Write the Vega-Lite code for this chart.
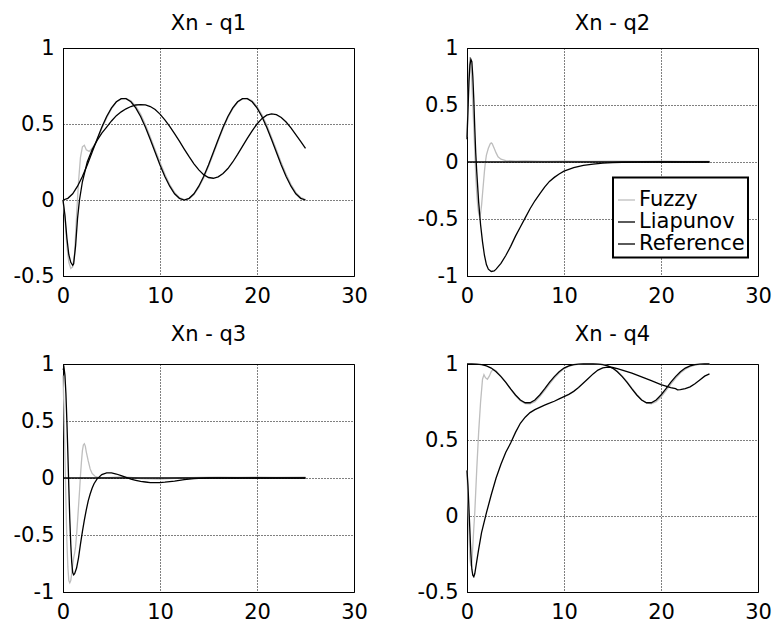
{
"$schema":"https://vega.github.io/schema/vega-lite/v6.json",
"background":"white",
"padding":{"left":12,"top":12,"right":0,"bottom":0},
"columns":2,
"spacing":{"row":16,"column":48},
"data":{"values":[
{"p":"q1","s":"Fuzzy","t":0,"v":0},{"p":"q1","s":"Fuzzy","t":0.2,"v":-0.12},{"p":"q1","s":"Fuzzy","t":0.4,"v":-0.3},{"p":"q1","s":"Fuzzy","t":0.6,"v":-0.41},{"p":"q1","s":"Fuzzy","t":0.8,"v":-0.45},{"p":"q1","s":"Fuzzy","t":1.0,"v":-0.44},{"p":"q1","s":"Fuzzy","t":1.2,"v":-0.35},{"p":"q1","s":"Fuzzy","t":1.4,"v":-0.1},{"p":"q1","s":"Fuzzy","t":1.6,"v":0.12},{"p":"q1","s":"Fuzzy","t":1.8,"v":0.28},{"p":"q1","s":"Fuzzy","t":2.0,"v":0.35},{"p":"q1","s":"Fuzzy","t":2.2,"v":0.36},{"p":"q1","s":"Fuzzy","t":2.4,"v":0.33},{"p":"q1","s":"Fuzzy","t":2.7,"v":0.32},{"p":"q1","s":"Fuzzy","t":3.0,"v":0.34},{"p":"q1","s":"Fuzzy","t":3.5,"v":0.39},{"p":"q1","s":"Fuzzy","t":4,"v":0.47},{"p":"q1","s":"Fuzzy","t":4.5,"v":0.54},{"p":"q1","s":"Fuzzy","t":5,"v":0.6},{"p":"q1","s":"Fuzzy","t":5.5,"v":0.645},{"p":"q1","s":"Fuzzy","t":6,"v":0.665},{"p":"q1","s":"Fuzzy","t":6.5,"v":0.668},{"p":"q1","s":"Fuzzy","t":7,"v":0.652},{"p":"q1","s":"Fuzzy","t":7.5,"v":0.618},{"p":"q1","s":"Fuzzy","t":8,"v":0.565},{"p":"q1","s":"Fuzzy","t":8.5,"v":0.495},{"p":"q1","s":"Fuzzy","t":9,"v":0.415},{"p":"q1","s":"Fuzzy","t":9.5,"v":0.33},{"p":"q1","s":"Fuzzy","t":10,"v":0.248},{"p":"q1","s":"Fuzzy","t":10.5,"v":0.17},{"p":"q1","s":"Fuzzy","t":11,"v":0.102},{"p":"q1","s":"Fuzzy","t":11.5,"v":0.05},{"p":"q1","s":"Fuzzy","t":12,"v":0.015},{"p":"q1","s":"Fuzzy","t":12.5,"v":0.002},{"p":"q1","s":"Fuzzy","t":13,"v":0.008},{"p":"q1","s":"Fuzzy","t":13.5,"v":0.035},{"p":"q1","s":"Fuzzy","t":14,"v":0.082},{"p":"q1","s":"Fuzzy","t":14.5,"v":0.145},{"p":"q1","s":"Fuzzy","t":15,"v":0.22},{"p":"q1","s":"Fuzzy","t":15.5,"v":0.302},{"p":"q1","s":"Fuzzy","t":16,"v":0.388},{"p":"q1","s":"Fuzzy","t":16.5,"v":0.47},{"p":"q1","s":"Fuzzy","t":17,"v":0.542},{"p":"q1","s":"Fuzzy","t":17.5,"v":0.6},{"p":"q1","s":"Fuzzy","t":18,"v":0.643},{"p":"q1","s":"Fuzzy","t":18.5,"v":0.665},{"p":"q1","s":"Fuzzy","t":19,"v":0.668},{"p":"q1","s":"Fuzzy","t":19.5,"v":0.652},{"p":"q1","s":"Fuzzy","t":20,"v":0.615},{"p":"q1","s":"Fuzzy","t":20.5,"v":0.562},{"p":"q1","s":"Fuzzy","t":21,"v":0.493},{"p":"q1","s":"Fuzzy","t":21.5,"v":0.413},{"p":"q1","s":"Fuzzy","t":22,"v":0.33},{"p":"q1","s":"Fuzzy","t":22.5,"v":0.246},{"p":"q1","s":"Fuzzy","t":23,"v":0.17},{"p":"q1","s":"Fuzzy","t":23.5,"v":0.103},{"p":"q1","s":"Fuzzy","t":24,"v":0.05},{"p":"q1","s":"Fuzzy","t":24.5,"v":0.017},{"p":"q1","s":"Fuzzy","t":25,"v":0.003},
{"p":"q1","s":"Liapunov","t":0,"v":0},{"p":"q1","s":"Liapunov","t":0.2,"v":-0.1},{"p":"q1","s":"Liapunov","t":0.4,"v":-0.25},{"p":"q1","s":"Liapunov","t":0.6,"v":-0.36},{"p":"q1","s":"Liapunov","t":0.8,"v":-0.41},{"p":"q1","s":"Liapunov","t":1.0,"v":-0.43},{"p":"q1","s":"Liapunov","t":1.1,"v":-0.42},{"p":"q1","s":"Liapunov","t":1.3,"v":-0.3},{"p":"q1","s":"Liapunov","t":1.5,"v":-0.12},{"p":"q1","s":"Liapunov","t":1.7,"v":0.0},{"p":"q1","s":"Liapunov","t":2.0,"v":0.12},{"p":"q1","s":"Liapunov","t":2.5,"v":0.25},{"p":"q1","s":"Liapunov","t":3,"v":0.33},{"p":"q1","s":"Liapunov","t":3.5,"v":0.39},{"p":"q1","s":"Liapunov","t":4,"v":0.44},{"p":"q1","s":"Liapunov","t":4.5,"v":0.48},{"p":"q1","s":"Liapunov","t":5,"v":0.52},{"p":"q1","s":"Liapunov","t":5.5,"v":0.555},{"p":"q1","s":"Liapunov","t":6,"v":0.58},{"p":"q1","s":"Liapunov","t":6.5,"v":0.6},{"p":"q1","s":"Liapunov","t":7,"v":0.615},{"p":"q1","s":"Liapunov","t":7.5,"v":0.625},{"p":"q1","s":"Liapunov","t":8,"v":0.628},{"p":"q1","s":"Liapunov","t":8.5,"v":0.626},{"p":"q1","s":"Liapunov","t":9,"v":0.615},{"p":"q1","s":"Liapunov","t":9.5,"v":0.595},{"p":"q1","s":"Liapunov","t":10,"v":0.565},{"p":"q1","s":"Liapunov","t":10.5,"v":0.527},{"p":"q1","s":"Liapunov","t":11,"v":0.485},{"p":"q1","s":"Liapunov","t":11.5,"v":0.437},{"p":"q1","s":"Liapunov","t":12,"v":0.387},{"p":"q1","s":"Liapunov","t":12.5,"v":0.335},{"p":"q1","s":"Liapunov","t":13,"v":0.285},{"p":"q1","s":"Liapunov","t":13.5,"v":0.238},{"p":"q1","s":"Liapunov","t":14,"v":0.198},{"p":"q1","s":"Liapunov","t":14.5,"v":0.167},{"p":"q1","s":"Liapunov","t":15,"v":0.148},{"p":"q1","s":"Liapunov","t":15.5,"v":0.143},{"p":"q1","s":"Liapunov","t":16,"v":0.152},{"p":"q1","s":"Liapunov","t":16.5,"v":0.174},{"p":"q1","s":"Liapunov","t":17,"v":0.207},{"p":"q1","s":"Liapunov","t":17.5,"v":0.25},{"p":"q1","s":"Liapunov","t":18,"v":0.3},{"p":"q1","s":"Liapunov","t":18.5,"v":0.353},{"p":"q1","s":"Liapunov","t":19,"v":0.405},{"p":"q1","s":"Liapunov","t":19.5,"v":0.455},{"p":"q1","s":"Liapunov","t":20,"v":0.5},{"p":"q1","s":"Liapunov","t":20.5,"v":0.535},{"p":"q1","s":"Liapunov","t":21,"v":0.558},{"p":"q1","s":"Liapunov","t":21.5,"v":0.567},{"p":"q1","s":"Liapunov","t":22,"v":0.562},{"p":"q1","s":"Liapunov","t":22.5,"v":0.543},{"p":"q1","s":"Liapunov","t":23,"v":0.513},{"p":"q1","s":"Liapunov","t":23.5,"v":0.474},{"p":"q1","s":"Liapunov","t":24,"v":0.43},{"p":"q1","s":"Liapunov","t":24.5,"v":0.385},{"p":"q1","s":"Liapunov","t":25,"v":0.34},
{"p":"q1","s":"Reference","t":0,"v":0},{"p":"q1","s":"Reference","t":0.5,"v":0.011},{"p":"q1","s":"Reference","t":1,"v":0.041},{"p":"q1","s":"Reference","t":1.5,"v":0.091},{"p":"q1","s":"Reference","t":2,"v":0.155},{"p":"q1","s":"Reference","t":2.5,"v":0.231},{"p":"q1","s":"Reference","t":3,"v":0.314},{"p":"q1","s":"Reference","t":3.5,"v":0.398},{"p":"q1","s":"Reference","t":4,"v":0.478},{"p":"q1","s":"Reference","t":4.5,"v":0.549},{"p":"q1","s":"Reference","t":5,"v":0.606},{"p":"q1","s":"Reference","t":5.5,"v":0.646},{"p":"q1","s":"Reference","t":6,"v":0.667},{"p":"q1","s":"Reference","t":6.5,"v":0.667},{"p":"q1","s":"Reference","t":7,"v":0.646},{"p":"q1","s":"Reference","t":7.5,"v":0.606},{"p":"q1","s":"Reference","t":8,"v":0.549},{"p":"q1","s":"Reference","t":8.5,"v":0.478},{"p":"q1","s":"Reference","t":9,"v":0.398},{"p":"q1","s":"Reference","t":9.5,"v":0.314},{"p":"q1","s":"Reference","t":10,"v":0.231},{"p":"q1","s":"Reference","t":10.5,"v":0.155},{"p":"q1","s":"Reference","t":11,"v":0.091},{"p":"q1","s":"Reference","t":11.5,"v":0.041},{"p":"q1","s":"Reference","t":12,"v":0.011},{"p":"q1","s":"Reference","t":12.5,"v":0},{"p":"q1","s":"Reference","t":13,"v":0.011},{"p":"q1","s":"Reference","t":13.5,"v":0.041},{"p":"q1","s":"Reference","t":14,"v":0.091},{"p":"q1","s":"Reference","t":14.5,"v":0.155},{"p":"q1","s":"Reference","t":15,"v":0.231},{"p":"q1","s":"Reference","t":15.5,"v":0.314},{"p":"q1","s":"Reference","t":16,"v":0.398},{"p":"q1","s":"Reference","t":16.5,"v":0.478},{"p":"q1","s":"Reference","t":17,"v":0.549},{"p":"q1","s":"Reference","t":17.5,"v":0.606},{"p":"q1","s":"Reference","t":18,"v":0.646},{"p":"q1","s":"Reference","t":18.5,"v":0.667},{"p":"q1","s":"Reference","t":19,"v":0.667},{"p":"q1","s":"Reference","t":19.5,"v":0.646},{"p":"q1","s":"Reference","t":20,"v":0.606},{"p":"q1","s":"Reference","t":20.5,"v":0.549},{"p":"q1","s":"Reference","t":21,"v":0.478},{"p":"q1","s":"Reference","t":21.5,"v":0.398},{"p":"q1","s":"Reference","t":22,"v":0.314},{"p":"q1","s":"Reference","t":22.5,"v":0.231},{"p":"q1","s":"Reference","t":23,"v":0.155},{"p":"q1","s":"Reference","t":23.5,"v":0.091},{"p":"q1","s":"Reference","t":24,"v":0.041},{"p":"q1","s":"Reference","t":24.5,"v":0.011},{"p":"q1","s":"Reference","t":25,"v":0},
{"p":"q2","s":"Fuzzy","t":0,"v":0.22},{"p":"q2","s":"Fuzzy","t":0.1,"v":0.5},{"p":"q2","s":"Fuzzy","t":0.2,"v":0.8},{"p":"q2","s":"Fuzzy","t":0.3,"v":0.92},{"p":"q2","s":"Fuzzy","t":0.4,"v":0.85},{"p":"q2","s":"Fuzzy","t":0.5,"v":0.7},{"p":"q2","s":"Fuzzy","t":0.6,"v":0.5},{"p":"q2","s":"Fuzzy","t":0.7,"v":0.3},{"p":"q2","s":"Fuzzy","t":0.8,"v":0.1},{"p":"q2","s":"Fuzzy","t":0.9,"v":-0.12},{"p":"q2","s":"Fuzzy","t":1.0,"v":-0.27},{"p":"q2","s":"Fuzzy","t":1.1,"v":-0.38},{"p":"q2","s":"Fuzzy","t":1.2,"v":-0.45},{"p":"q2","s":"Fuzzy","t":1.3,"v":-0.48},{"p":"q2","s":"Fuzzy","t":1.4,"v":-0.45},{"p":"q2","s":"Fuzzy","t":1.5,"v":-0.38},{"p":"q2","s":"Fuzzy","t":1.6,"v":-0.28},{"p":"q2","s":"Fuzzy","t":1.7,"v":-0.18},{"p":"q2","s":"Fuzzy","t":1.8,"v":-0.08},{"p":"q2","s":"Fuzzy","t":1.9,"v":0.0},{"p":"q2","s":"Fuzzy","t":2.0,"v":0.06},{"p":"q2","s":"Fuzzy","t":2.2,"v":0.12},{"p":"q2","s":"Fuzzy","t":2.4,"v":0.16},{"p":"q2","s":"Fuzzy","t":2.5,"v":0.167},{"p":"q2","s":"Fuzzy","t":2.6,"v":0.16},{"p":"q2","s":"Fuzzy","t":2.8,"v":0.12},{"p":"q2","s":"Fuzzy","t":3.0,"v":0.08},{"p":"q2","s":"Fuzzy","t":3.2,"v":0.045},{"p":"q2","s":"Fuzzy","t":3.5,"v":0.025},{"p":"q2","s":"Fuzzy","t":4,"v":0.012},{"p":"q2","s":"Fuzzy","t":5,"v":0.008},{"p":"q2","s":"Fuzzy","t":6,"v":0.01},{"p":"q2","s":"Fuzzy","t":8,"v":0.005},{"p":"q2","s":"Fuzzy","t":10,"v":0.008},{"p":"q2","s":"Fuzzy","t":12,"v":0.005},{"p":"q2","s":"Fuzzy","t":15,"v":0.008},{"p":"q2","s":"Fuzzy","t":18,"v":0.006},{"p":"q2","s":"Fuzzy","t":20,"v":0.008},{"p":"q2","s":"Fuzzy","t":22,"v":0.005},{"p":"q2","s":"Fuzzy","t":25,"v":0.006},
{"p":"q2","s":"Liapunov","t":0,"v":0.2},{"p":"q2","s":"Liapunov","t":0.1,"v":0.45},{"p":"q2","s":"Liapunov","t":0.2,"v":0.7},{"p":"q2","s":"Liapunov","t":0.3,"v":0.85},{"p":"q2","s":"Liapunov","t":0.4,"v":0.9},{"p":"q2","s":"Liapunov","t":0.5,"v":0.88},{"p":"q2","s":"Liapunov","t":0.6,"v":0.75},{"p":"q2","s":"Liapunov","t":0.7,"v":0.55},{"p":"q2","s":"Liapunov","t":0.8,"v":0.3},{"p":"q2","s":"Liapunov","t":0.9,"v":0.08},{"p":"q2","s":"Liapunov","t":1.0,"v":-0.08},{"p":"q2","s":"Liapunov","t":1.2,"v":-0.35},{"p":"q2","s":"Liapunov","t":1.4,"v":-0.55},{"p":"q2","s":"Liapunov","t":1.6,"v":-0.7},{"p":"q2","s":"Liapunov","t":1.8,"v":-0.82},{"p":"q2","s":"Liapunov","t":2.0,"v":-0.9},{"p":"q2","s":"Liapunov","t":2.2,"v":-0.94},{"p":"q2","s":"Liapunov","t":2.5,"v":-0.96},{"p":"q2","s":"Liapunov","t":2.8,"v":-0.955},{"p":"q2","s":"Liapunov","t":3.0,"v":-0.94},{"p":"q2","s":"Liapunov","t":3.5,"v":-0.89},{"p":"q2","s":"Liapunov","t":4,"v":-0.82},{"p":"q2","s":"Liapunov","t":4.5,"v":-0.74},{"p":"q2","s":"Liapunov","t":5,"v":-0.65},{"p":"q2","s":"Liapunov","t":5.5,"v":-0.57},{"p":"q2","s":"Liapunov","t":6,"v":-0.49},{"p":"q2","s":"Liapunov","t":6.5,"v":-0.41},{"p":"q2","s":"Liapunov","t":7,"v":-0.34},{"p":"q2","s":"Liapunov","t":7.5,"v":-0.28},{"p":"q2","s":"Liapunov","t":8,"v":-0.22},{"p":"q2","s":"Liapunov","t":8.5,"v":-0.17},{"p":"q2","s":"Liapunov","t":9,"v":-0.135},{"p":"q2","s":"Liapunov","t":9.5,"v":-0.105},{"p":"q2","s":"Liapunov","t":10,"v":-0.08},{"p":"q2","s":"Liapunov","t":11,"v":-0.05},{"p":"q2","s":"Liapunov","t":12,"v":-0.03},{"p":"q2","s":"Liapunov","t":13,"v":-0.018},{"p":"q2","s":"Liapunov","t":14,"v":-0.01},{"p":"q2","s":"Liapunov","t":15,"v":-0.005},{"p":"q2","s":"Liapunov","t":16,"v":-0.002},{"p":"q2","s":"Liapunov","t":18,"v":0},{"p":"q2","s":"Liapunov","t":25,"v":0},
{"p":"q2","s":"Reference","t":0,"v":0},{"p":"q2","s":"Reference","t":5,"v":0},{"p":"q2","s":"Reference","t":10,"v":0},{"p":"q2","s":"Reference","t":15,"v":0},{"p":"q2","s":"Reference","t":20,"v":0},{"p":"q2","s":"Reference","t":25,"v":0},
{"p":"q3","s":"Fuzzy","t":0,"v":0.9},{"p":"q3","s":"Fuzzy","t":0.1,"v":0.6},{"p":"q3","s":"Fuzzy","t":0.2,"v":0.2},{"p":"q3","s":"Fuzzy","t":0.3,"v":-0.2},{"p":"q3","s":"Fuzzy","t":0.4,"v":-0.55},{"p":"q3","s":"Fuzzy","t":0.5,"v":-0.78},{"p":"q3","s":"Fuzzy","t":0.6,"v":-0.9},{"p":"q3","s":"Fuzzy","t":0.7,"v":-0.92},{"p":"q3","s":"Fuzzy","t":0.8,"v":-0.9},{"p":"q3","s":"Fuzzy","t":0.9,"v":-0.84},{"p":"q3","s":"Fuzzy","t":1.0,"v":-0.76},{"p":"q3","s":"Fuzzy","t":1.1,"v":-0.7},{"p":"q3","s":"Fuzzy","t":1.2,"v":-0.66},{"p":"q3","s":"Fuzzy","t":1.3,"v":-0.6},{"p":"q3","s":"Fuzzy","t":1.4,"v":-0.5},{"p":"q3","s":"Fuzzy","t":1.5,"v":-0.38},{"p":"q3","s":"Fuzzy","t":1.6,"v":-0.25},{"p":"q3","s":"Fuzzy","t":1.7,"v":-0.12},{"p":"q3","s":"Fuzzy","t":1.8,"v":0.02},{"p":"q3","s":"Fuzzy","t":1.9,"v":0.14},{"p":"q3","s":"Fuzzy","t":2.0,"v":0.24},{"p":"q3","s":"Fuzzy","t":2.1,"v":0.29},{"p":"q3","s":"Fuzzy","t":2.2,"v":0.3},{"p":"q3","s":"Fuzzy","t":2.3,"v":0.28},{"p":"q3","s":"Fuzzy","t":2.4,"v":0.23},{"p":"q3","s":"Fuzzy","t":2.6,"v":0.15},{"p":"q3","s":"Fuzzy","t":2.8,"v":0.08},{"p":"q3","s":"Fuzzy","t":3.0,"v":0.04},{"p":"q3","s":"Fuzzy","t":3.3,"v":0.015},{"p":"q3","s":"Fuzzy","t":3.6,"v":0.005},{"p":"q3","s":"Fuzzy","t":4,"v":0.0},{"p":"q3","s":"Fuzzy","t":5,"v":0.005},{"p":"q3","s":"Fuzzy","t":6,"v":0.01},{"p":"q3","s":"Fuzzy","t":7,"v":0.005},{"p":"q3","s":"Fuzzy","t":8,"v":-0.005},{"p":"q3","s":"Fuzzy","t":10,"v":-0.01},{"p":"q3","s":"Fuzzy","t":12,"v":0.0},{"p":"q3","s":"Fuzzy","t":14,"v":0.005},{"p":"q3","s":"Fuzzy","t":16,"v":0.008},{"p":"q3","s":"Fuzzy","t":18,"v":0.005},{"p":"q3","s":"Fuzzy","t":20,"v":0.008},{"p":"q3","s":"Fuzzy","t":22,"v":0.005},{"p":"q3","s":"Fuzzy","t":25,"v":0.008},
{"p":"q3","s":"Liapunov","t":0,"v":0.95},{"p":"q3","s":"Liapunov","t":0.1,"v":0.97},{"p":"q3","s":"Liapunov","t":0.2,"v":0.9},{"p":"q3","s":"Liapunov","t":0.3,"v":0.74},{"p":"q3","s":"Liapunov","t":0.4,"v":0.5},{"p":"q3","s":"Liapunov","t":0.5,"v":0.22},{"p":"q3","s":"Liapunov","t":0.6,"v":-0.08},{"p":"q3","s":"Liapunov","t":0.7,"v":-0.36},{"p":"q3","s":"Liapunov","t":0.8,"v":-0.58},{"p":"q3","s":"Liapunov","t":0.9,"v":-0.74},{"p":"q3","s":"Liapunov","t":1.0,"v":-0.83},{"p":"q3","s":"Liapunov","t":1.1,"v":-0.85},{"p":"q3","s":"Liapunov","t":1.2,"v":-0.84},{"p":"q3","s":"Liapunov","t":1.4,"v":-0.79},{"p":"q3","s":"Liapunov","t":1.6,"v":-0.7},{"p":"q3","s":"Liapunov","t":1.8,"v":-0.58},{"p":"q3","s":"Liapunov","t":2.0,"v":-0.47},{"p":"q3","s":"Liapunov","t":2.2,"v":-0.37},{"p":"q3","s":"Liapunov","t":2.4,"v":-0.28},{"p":"q3","s":"Liapunov","t":2.6,"v":-0.2},{"p":"q3","s":"Liapunov","t":2.8,"v":-0.14},{"p":"q3","s":"Liapunov","t":3.0,"v":-0.09},{"p":"q3","s":"Liapunov","t":3.2,"v":-0.05},{"p":"q3","s":"Liapunov","t":3.5,"v":-0.01},{"p":"q3","s":"Liapunov","t":4,"v":0.03},{"p":"q3","s":"Liapunov","t":4.5,"v":0.045},{"p":"q3","s":"Liapunov","t":5,"v":0.045},{"p":"q3","s":"Liapunov","t":5.5,"v":0.035},{"p":"q3","s":"Liapunov","t":6,"v":0.02},{"p":"q3","s":"Liapunov","t":6.5,"v":0.005},{"p":"q3","s":"Liapunov","t":7,"v":-0.01},{"p":"q3","s":"Liapunov","t":7.5,"v":-0.02},{"p":"q3","s":"Liapunov","t":8,"v":-0.03},{"p":"q3","s":"Liapunov","t":8.5,"v":-0.035},{"p":"q3","s":"Liapunov","t":9,"v":-0.04},{"p":"q3","s":"Liapunov","t":9.5,"v":-0.04},{"p":"q3","s":"Liapunov","t":10,"v":-0.04},{"p":"q3","s":"Liapunov","t":10.5,"v":-0.037},{"p":"q3","s":"Liapunov","t":11,"v":-0.032},{"p":"q3","s":"Liapunov","t":11.5,"v":-0.027},{"p":"q3","s":"Liapunov","t":12,"v":-0.02},{"p":"q3","s":"Liapunov","t":12.5,"v":-0.015},{"p":"q3","s":"Liapunov","t":13,"v":-0.01},{"p":"q3","s":"Liapunov","t":13.5,"v":-0.006},{"p":"q3","s":"Liapunov","t":14,"v":-0.003},{"p":"q3","s":"Liapunov","t":15,"v":0},{"p":"q3","s":"Liapunov","t":25,"v":0},
{"p":"q3","s":"Reference","t":0,"v":0},{"p":"q3","s":"Reference","t":5,"v":0},{"p":"q3","s":"Reference","t":10,"v":0},{"p":"q3","s":"Reference","t":15,"v":0},{"p":"q3","s":"Reference","t":20,"v":0},{"p":"q3","s":"Reference","t":25,"v":0},
{"p":"q4","s":"Fuzzy","t":0,"v":0.3},{"p":"q4","s":"Fuzzy","t":0.1,"v":0.1},{"p":"q4","s":"Fuzzy","t":0.2,"v":-0.12},{"p":"q4","s":"Fuzzy","t":0.3,"v":-0.28},{"p":"q4","s":"Fuzzy","t":0.4,"v":-0.33},{"p":"q4","s":"Fuzzy","t":0.5,"v":-0.3},{"p":"q4","s":"Fuzzy","t":0.6,"v":-0.2},{"p":"q4","s":"Fuzzy","t":0.7,"v":-0.08},{"p":"q4","s":"Fuzzy","t":0.8,"v":0.02},{"p":"q4","s":"Fuzzy","t":1.0,"v":0.3},{"p":"q4","s":"Fuzzy","t":1.2,"v":0.55},{"p":"q4","s":"Fuzzy","t":1.4,"v":0.75},{"p":"q4","s":"Fuzzy","t":1.6,"v":0.9},{"p":"q4","s":"Fuzzy","t":1.75,"v":0.93},{"p":"q4","s":"Fuzzy","t":1.9,"v":0.91},{"p":"q4","s":"Fuzzy","t":2.1,"v":0.9},{"p":"q4","s":"Fuzzy","t":2.3,"v":0.92},{"p":"q4","s":"Fuzzy","t":2.5,"v":0.95},{"p":"q4","s":"Fuzzy","t":2.7,"v":0.965},{"p":"q4","s":"Fuzzy","t":3.0,"v":0.955},{"p":"q4","s":"Fuzzy","t":3.5,"v":0.92},{"p":"q4","s":"Fuzzy","t":4,"v":0.88},{"p":"q4","s":"Fuzzy","t":4.5,"v":0.835},{"p":"q4","s":"Fuzzy","t":5,"v":0.792},{"p":"q4","s":"Fuzzy","t":5.5,"v":0.758},{"p":"q4","s":"Fuzzy","t":6,"v":0.74},{"p":"q4","s":"Fuzzy","t":6.5,"v":0.738},{"p":"q4","s":"Fuzzy","t":7,"v":0.752},{"p":"q4","s":"Fuzzy","t":7.5,"v":0.785},{"p":"q4","s":"Fuzzy","t":8,"v":0.825},{"p":"q4","s":"Fuzzy","t":8.5,"v":0.868},{"p":"q4","s":"Fuzzy","t":9,"v":0.908},{"p":"q4","s":"Fuzzy","t":9.5,"v":0.942},{"p":"q4","s":"Fuzzy","t":10,"v":0.968},{"p":"q4","s":"Fuzzy","t":10.5,"v":0.985},{"p":"q4","s":"Fuzzy","t":11,"v":0.994},{"p":"q4","s":"Fuzzy","t":11.5,"v":0.998},{"p":"q4","s":"Fuzzy","t":12,"v":1.0},{"p":"q4","s":"Fuzzy","t":13,"v":1.0},{"p":"q4","s":"Fuzzy","t":13.5,"v":0.999},{"p":"q4","s":"Fuzzy","t":14,"v":0.997},{"p":"q4","s":"Fuzzy","t":14.5,"v":0.99},{"p":"q4","s":"Fuzzy","t":15,"v":0.976},{"p":"q4","s":"Fuzzy","t":15.5,"v":0.953},{"p":"q4","s":"Fuzzy","t":16,"v":0.922},{"p":"q4","s":"Fuzzy","t":16.5,"v":0.884},{"p":"q4","s":"Fuzzy","t":17,"v":0.841},{"p":"q4","s":"Fuzzy","t":17.5,"v":0.8},{"p":"q4","s":"Fuzzy","t":18,"v":0.765},{"p":"q4","s":"Fuzzy","t":18.5,"v":0.744},{"p":"q4","s":"Fuzzy","t":19,"v":0.738},{"p":"q4","s":"Fuzzy","t":19.5,"v":0.752},{"p":"q4","s":"Fuzzy","t":20,"v":0.783},{"p":"q4","s":"Fuzzy","t":20.5,"v":0.823},{"p":"q4","s":"Fuzzy","t":21,"v":0.866},{"p":"q4","s":"Fuzzy","t":21.5,"v":0.906},{"p":"q4","s":"Fuzzy","t":22,"v":0.94},{"p":"q4","s":"Fuzzy","t":22.5,"v":0.966},{"p":"q4","s":"Fuzzy","t":23,"v":0.983},{"p":"q4","s":"Fuzzy","t":23.5,"v":0.993},{"p":"q4","s":"Fuzzy","t":24,"v":0.998},{"p":"q4","s":"Fuzzy","t":24.5,"v":1.0},{"p":"q4","s":"Fuzzy","t":25,"v":1.0},
{"p":"q4","s":"Liapunov","t":0,"v":0.3},{"p":"q4","s":"Liapunov","t":0.1,"v":0.2},{"p":"q4","s":"Liapunov","t":0.2,"v":0.05},{"p":"q4","s":"Liapunov","t":0.3,"v":-0.1},{"p":"q4","s":"Liapunov","t":0.4,"v":-0.25},{"p":"q4","s":"Liapunov","t":0.5,"v":-0.35},{"p":"q4","s":"Liapunov","t":0.6,"v":-0.39},{"p":"q4","s":"Liapunov","t":0.7,"v":-0.4},{"p":"q4","s":"Liapunov","t":0.8,"v":-0.38},{"p":"q4","s":"Liapunov","t":1.0,"v":-0.3},{"p":"q4","s":"Liapunov","t":1.2,"v":-0.22},{"p":"q4","s":"Liapunov","t":1.5,"v":-0.11},{"p":"q4","s":"Liapunov","t":2.0,"v":0.02},{"p":"q4","s":"Liapunov","t":2.5,"v":0.14},{"p":"q4","s":"Liapunov","t":3.0,"v":0.25},{"p":"q4","s":"Liapunov","t":3.5,"v":0.34},{"p":"q4","s":"Liapunov","t":4.0,"v":0.42},{"p":"q4","s":"Liapunov","t":4.5,"v":0.48},{"p":"q4","s":"Liapunov","t":5.0,"v":0.55},{"p":"q4","s":"Liapunov","t":5.5,"v":0.61},{"p":"q4","s":"Liapunov","t":6.0,"v":0.65},{"p":"q4","s":"Liapunov","t":6.5,"v":0.68},{"p":"q4","s":"Liapunov","t":7.0,"v":0.7},{"p":"q4","s":"Liapunov","t":7.5,"v":0.715},{"p":"q4","s":"Liapunov","t":8,"v":0.73},{"p":"q4","s":"Liapunov","t":8.5,"v":0.742},{"p":"q4","s":"Liapunov","t":9,"v":0.755},{"p":"q4","s":"Liapunov","t":9.5,"v":0.77},{"p":"q4","s":"Liapunov","t":10,"v":0.785},{"p":"q4","s":"Liapunov","t":10.5,"v":0.8},{"p":"q4","s":"Liapunov","t":11,"v":0.82},{"p":"q4","s":"Liapunov","t":11.5,"v":0.845},{"p":"q4","s":"Liapunov","t":12,"v":0.875},{"p":"q4","s":"Liapunov","t":12.5,"v":0.905},{"p":"q4","s":"Liapunov","t":13,"v":0.935},{"p":"q4","s":"Liapunov","t":13.5,"v":0.96},{"p":"q4","s":"Liapunov","t":14,"v":0.975},{"p":"q4","s":"Liapunov","t":14.5,"v":0.98},{"p":"q4","s":"Liapunov","t":15,"v":0.977},{"p":"q4","s":"Liapunov","t":15.5,"v":0.97},{"p":"q4","s":"Liapunov","t":16,"v":0.96},{"p":"q4","s":"Liapunov","t":17,"v":0.94},{"p":"q4","s":"Liapunov","t":18,"v":0.915},{"p":"q4","s":"Liapunov","t":19,"v":0.89},{"p":"q4","s":"Liapunov","t":20,"v":0.865},{"p":"q4","s":"Liapunov","t":21,"v":0.845},{"p":"q4","s":"Liapunov","t":21.5,"v":0.838},{"p":"q4","s":"Liapunov","t":21.7,"v":0.83},{"p":"q4","s":"Liapunov","t":22,"v":0.832},{"p":"q4","s":"Liapunov","t":22.5,"v":0.838},{"p":"q4","s":"Liapunov","t":23,"v":0.85},{"p":"q4","s":"Liapunov","t":23.5,"v":0.87},{"p":"q4","s":"Liapunov","t":24,"v":0.895},{"p":"q4","s":"Liapunov","t":24.5,"v":0.92},{"p":"q4","s":"Liapunov","t":25,"v":0.935},
{"p":"q4","s":"Reference","t":0,"v":1},{"p":"q4","s":"Reference","t":0.5,"v":1},{"p":"q4","s":"Reference","t":1,"v":0.999},{"p":"q4","s":"Reference","t":1.5,"v":0.996},{"p":"q4","s":"Reference","t":2,"v":0.988},{"p":"q4","s":"Reference","t":2.5,"v":0.973},{"p":"q4","s":"Reference","t":3,"v":0.949},{"p":"q4","s":"Reference","t":3.5,"v":0.917},{"p":"q4","s":"Reference","t":4,"v":0.879},{"p":"q4","s":"Reference","t":4.5,"v":0.836},{"p":"q4","s":"Reference","t":5,"v":0.796},{"p":"q4","s":"Reference","t":5.5,"v":0.763},{"p":"q4","s":"Reference","t":6,"v":0.745},{"p":"q4","s":"Reference","t":6.5,"v":0.745},{"p":"q4","s":"Reference","t":7,"v":0.763},{"p":"q4","s":"Reference","t":7.5,"v":0.796},{"p":"q4","s":"Reference","t":8,"v":0.836},{"p":"q4","s":"Reference","t":8.5,"v":0.879},{"p":"q4","s":"Reference","t":9,"v":0.917},{"p":"q4","s":"Reference","t":9.5,"v":0.949},{"p":"q4","s":"Reference","t":10,"v":0.973},{"p":"q4","s":"Reference","t":10.5,"v":0.988},{"p":"q4","s":"Reference","t":11,"v":0.996},{"p":"q4","s":"Reference","t":11.5,"v":0.999},{"p":"q4","s":"Reference","t":12,"v":1},{"p":"q4","s":"Reference","t":12.5,"v":1},{"p":"q4","s":"Reference","t":13,"v":1},{"p":"q4","s":"Reference","t":13.5,"v":0.999},{"p":"q4","s":"Reference","t":14,"v":0.996},{"p":"q4","s":"Reference","t":14.5,"v":0.988},{"p":"q4","s":"Reference","t":15,"v":0.973},{"p":"q4","s":"Reference","t":15.5,"v":0.949},{"p":"q4","s":"Reference","t":16,"v":0.917},{"p":"q4","s":"Reference","t":16.5,"v":0.879},{"p":"q4","s":"Reference","t":17,"v":0.836},{"p":"q4","s":"Reference","t":17.5,"v":0.796},{"p":"q4","s":"Reference","t":18,"v":0.763},{"p":"q4","s":"Reference","t":18.5,"v":0.745},{"p":"q4","s":"Reference","t":19,"v":0.745},{"p":"q4","s":"Reference","t":19.5,"v":0.763},{"p":"q4","s":"Reference","t":20,"v":0.796},{"p":"q4","s":"Reference","t":20.5,"v":0.836},{"p":"q4","s":"Reference","t":21,"v":0.879},{"p":"q4","s":"Reference","t":21.5,"v":0.917},{"p":"q4","s":"Reference","t":22,"v":0.949},{"p":"q4","s":"Reference","t":22.5,"v":0.973},{"p":"q4","s":"Reference","t":23,"v":0.988},{"p":"q4","s":"Reference","t":23.5,"v":0.996},{"p":"q4","s":"Reference","t":24,"v":0.999},{"p":"q4","s":"Reference","t":24.5,"v":1},{"p":"q4","s":"Reference","t":25,"v":1}
]},
"concat":[
{"title":{"text":"Xn - q1","offset":3},"width":291,"height":228,
 "transform":[{"filter":"datum.p === 'q1'"}],
 "mark":{"type":"line","strokeWidth":1.3},
 "encoding":{
  "x":{"field":"t","type":"quantitative","scale":{"domain":[0,30],"nice":false},"axis":{"values":[0,10,20,30]}},
  "y":{"field":"v","type":"quantitative","scale":{"domain":[-0.5,1],"nice":false,"zero":false},"axis":{"values":[-0.5,0,0.5,1]}},
  "color":{"field":"s","type":"nominal","scale":{"domain":["Fuzzy","Liapunov","Reference"],"range":["#bebebe","#000000","#000000"]},"legend":null}}},
{"title":{"text":"Xn - q2","offset":3},"width":291,"height":228,
 "transform":[{"filter":"datum.p === 'q2'"}],
 "mark":{"type":"line","strokeWidth":1.3},
 "encoding":{
  "x":{"field":"t","type":"quantitative","scale":{"domain":[0,30],"nice":false},"axis":{"values":[0,10,20,30]}},
  "y":{"field":"v","type":"quantitative","scale":{"domain":[-1,1],"nice":false,"zero":false},"axis":{"values":[-1,-0.5,0,0.5,1]}},
  "color":{"field":"s","type":"nominal","scale":{"domain":["Fuzzy","Liapunov","Reference"],"range":["#bebebe","#000000","#000000"]},
   "legend":{"orient":"none","legendX":146,"legendY":129.5,"title":" ","titleFontSize":9,"titlePadding":0,"padding":3,"strokeColor":"black","fillColor":"white","labelFontSize":21,"labelFont":"DejaVu Sans","labelColor":"black","labelOffset":2,"symbolType":"stroke","symbolSize":289,"symbolStrokeWidth":1.3,"rowPadding":0}}}},
{"title":{"text":"Xn - q3","offset":8},"width":291,"height":228,
 "transform":[{"filter":"datum.p === 'q3'"}],
 "mark":{"type":"line","strokeWidth":1.3},
 "encoding":{
  "x":{"field":"t","type":"quantitative","scale":{"domain":[0,30],"nice":false},"axis":{"values":[0,10,20,30]}},
  "y":{"field":"v","type":"quantitative","scale":{"domain":[-1,1],"nice":false,"zero":false},"axis":{"values":[-1,-0.5,0,0.5,1]}},
  "color":{"field":"s","type":"nominal","scale":{"domain":["Fuzzy","Liapunov","Reference"],"range":["#bebebe","#000000","#000000"]},"legend":null}}},
{"title":{"text":"Xn - q4","offset":8},"width":291,"height":228,
 "transform":[{"filter":"datum.p === 'q4'"}],
 "mark":{"type":"line","strokeWidth":1.3},
 "encoding":{
  "x":{"field":"t","type":"quantitative","scale":{"domain":[0,30],"nice":false},"axis":{"values":[0,10,20,30]}},
  "y":{"field":"v","type":"quantitative","scale":{"domain":[-0.5,1],"nice":false,"zero":false},"axis":{"values":[-0.5,0,0.5,1]}},
  "color":{"field":"s","type":"nominal","scale":{"domain":["Fuzzy","Liapunov","Reference"],"range":["#bebebe","#000000","#000000"]},"legend":null}}}
],
"resolve":{"scale":{"color":"independent","x":"independent","y":"independent"},"legend":{"color":"independent"}},
"config":{
 "font":"DejaVu Sans",
 "view":{"stroke":"black","strokeWidth":1},
 "axis":{"title":null,"domain":true,"domainColor":"black","domainWidth":1,"grid":true,"gridColor":"black","gridDash":[1,2],"gridOpacity":1,"gridWidth":1,"ticks":false,"labelFont":"DejaVu Sans","labelFontSize":21,"labelColor":"black","labelPadding":9,"labelFlush":false,"labelOverlap":false,"labelExpr":"'' + datum.value"},
 "title":{"font":"DejaVu Sans","fontSize":21,"fontWeight":"normal","color":"black","baseline":"alphabetic","anchor":"middle","frame":"group"},
 "legend":{"strokeWidth":2}
}
}
